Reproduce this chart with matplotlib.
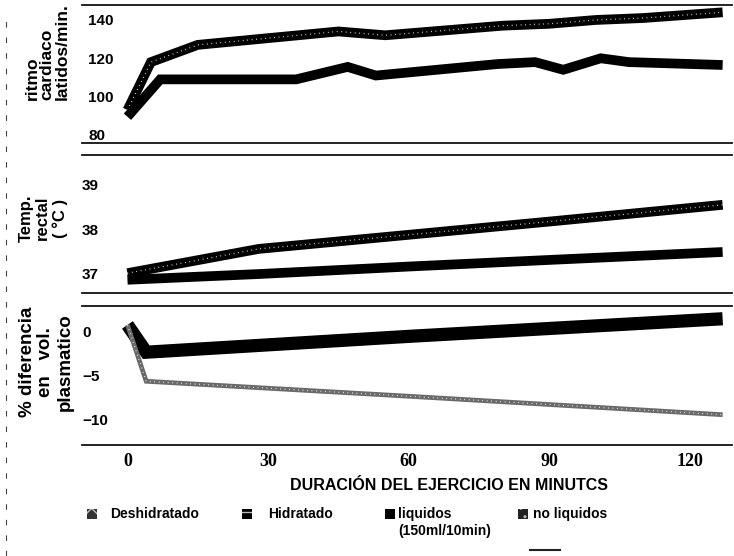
import matplotlib
matplotlib.use("Agg")
import matplotlib.pyplot as plt
from matplotlib.lines import Line2D
from matplotlib.patches import Rectangle

# > Data:
t_hr_nofluid = [0, 5, 15, 45, 55, 80, 90, 100, 110, 127]
hr_nofluid = [93, 118, 127, 134, 132, 137, 138, 140, 141, 144]
t_hr_fluid = [0, 7, 36, 47, 53, 79, 87, 93, 101, 107, 127]
hr_fluid = [89.5, 109, 109, 115.5, 111, 117, 118, 114, 120, 118, 116.5]

t_temp = [0, 28, 60, 90, 127]
temp_nofluid = [37.0, 37.55, 37.87, 38.17, 38.55]
temp_fluid = [36.85, 36.98, 37.15, 37.3, 37.48]

t_pv = [0, 4, 60, 127]
pv_fluid = [0.8, -2.3, -0.5, 1.5]
pv_nofluid = [0.8, -5.6, -7.3, -9.4]

x_ticks = [0, 30, 60, 90, 120]
hr_ticks = [80, 100, 120, 140]
temp_ticks = [37, 38, 39]
pv_ticks = [-10, -5, 0]

ylabels = ["ritmo\ncardiaco\nlatidos/min.", "Temp.\nrectal\n( °C )",
           "% diferencia\nen   vol.\nplasmatico"]
xlabel = "DURACIÓN DEL EJERCICIO EN MINUTCS"
legend_labels = ["Deshidratado", "Hidratado", "liquidos\n(150ml/10min)",
                 "no liquidos"]
# <

# > Fonts / sizes:
SANS = "Liberation Sans"
SERIF = "Liberation Serif"
FONT_TICK = 11
FONT_LABEL = 11.5
FONT_LEGEND = 10
plt.rcParams["font.family"] = [SANS, "DejaVu Sans"]
# <

W, H = 734, 556
fig = plt.figure(figsize=(W / 100, H / 100), dpi=100)


def px_axes(top, bottom, left=82, right=732):
    return fig.add_axes([left / W, 1 - bottom / H,
                         (right - left) / W, (bottom - top) / H])


def fx(x):
    return x / W


def fy(y):
    return 1 - y / H


X_LIM = (-9.7, 129.0)

ax1 = px_axes(5, 143)
ax2 = px_axes(155, 293)
ax3 = px_axes(306, 445)

for ax, ticks, pad in ((ax1, hr_ticks, -4.5), (ax2, temp_ticks, 0),
                       (ax3, pv_ticks, 0)):
    ax.set_xlim(X_LIM)
    for s in ("left", "right"):
        ax.spines[s].set_visible(False)
    for s in ("top", "bottom"):
        ax.spines[s].set_linewidth(1.3)
        ax.spines[s].set_color("#111111")
    ax.set_yticks(ticks)
    ax.tick_params(axis="y", length=0, pad=pad, labelsize=FONT_TICK)
    for lab in ax.get_yticklabels():
        lab.set_horizontalalignment("left")
        lab.set_fontweight("bold")
    ax.set_xticks(x_ticks)
    ax.tick_params(axis="x", length=0)

ax1.tick_params(axis="x", labelbottom=False)
ax2.tick_params(axis="x", labelbottom=False)
ax3.tick_params(axis="x", pad=6)
for lab in ax3.get_xticklabels():
    lab.set_family(SERIF)
    lab.set_fontweight("bold")
    lab.set_fontsize(13)

ax1.set_ylim(75.8, 147.8)
ax2.set_ylim(36.55, 39.68)
ax3.set_ylim(-12.84, 2.95)


def speckled(ax, x, y, lw, color="black"):
    ax.plot(x, y, color=color, lw=lw, solid_capstyle="butt",
            solid_joinstyle="miter")
    ax.plot(x, y, color="white", lw=0.9, linestyle=(0, (0.6, 3.0)))


# > Heart rate
speckled(ax1, t_hr_nofluid, hr_nofluid, 7.0)
ax1.plot(t_hr_fluid, hr_fluid, color="black", lw=7.0,
         solid_capstyle="butt", solid_joinstyle="miter")
# > Rectal temperature
speckled(ax2, t_temp, temp_nofluid, 7.0)
ax2.plot(t_temp, temp_fluid, color="black", lw=7.0, solid_capstyle="butt")
# > Plasma volume
ax3.plot(t_pv, pv_fluid, color="black", lw=9.5, solid_capstyle="butt",
         solid_joinstyle="miter")
speckled(ax3, t_pv, pv_nofluid, 3.4, color="#6a6a6a")
# <

# > y labels (rotated, multi-line)
fig.text(fx(47), fy(100), ylabels[0], rotation=90, ha="center", va="bottom",
         multialignment="left", fontsize=12.5, fontweight="bold",
         linespacing=1.0)
fig.text(fx(43), fy(218), ylabels[1], rotation=90, ha="center", va="center",
         multialignment="center", fontsize=12, fontweight="bold",
         linespacing=1.15)
fig.text(fx(46), fy(362), ylabels[2], rotation=90, ha="center", va="center",
         multialignment="center", fontsize=13.5, fontweight="bold",
         linespacing=1.15)

# > x label
fig.text(fx(449), fy(485), xlabel, ha="center", va="center",
         fontsize=FONT_LABEL, fontweight="bold")

# > legend
legend_pos = [(92, 110), (247, 268), (390, 398), (523, 533)]
legend_face = ["#333333", "black", "black", "#222222"]
legend_hatch = ["xx", "--", None, ".."]
for label, (mx, tx), face, hatch in zip(legend_labels, legend_pos,
                                        legend_face, legend_hatch):
    fig.add_artist(Rectangle((fx(mx - 5), fy(519)), 10 / W, 10 / H,
                             transform=fig.transFigure, facecolor=face,
                             edgecolor="#bbbbbb" if hatch else face,
                             hatch=hatch, linewidth=0))
    fig.text(fx(tx), fy(507), label, ha="left", va="top",
             fontsize=FONT_LEGEND, fontweight="bold", linespacing=1.3)

# > scan marks: dashed left border and a short stroke at the bottom
fig.add_artist(Line2D([fx(6), fx(6)], [0, fy(20)], transform=fig.transFigure,
                      color="#444444", lw=0.8, linestyle=(0, (5, 9))))
fig.add_artist(Line2D([fx(530), fx(560)], [fy(550), fy(550)],
                      transform=fig.transFigure, color="#222222", lw=1.5))

fig.savefig("out.png", dpi=100)
